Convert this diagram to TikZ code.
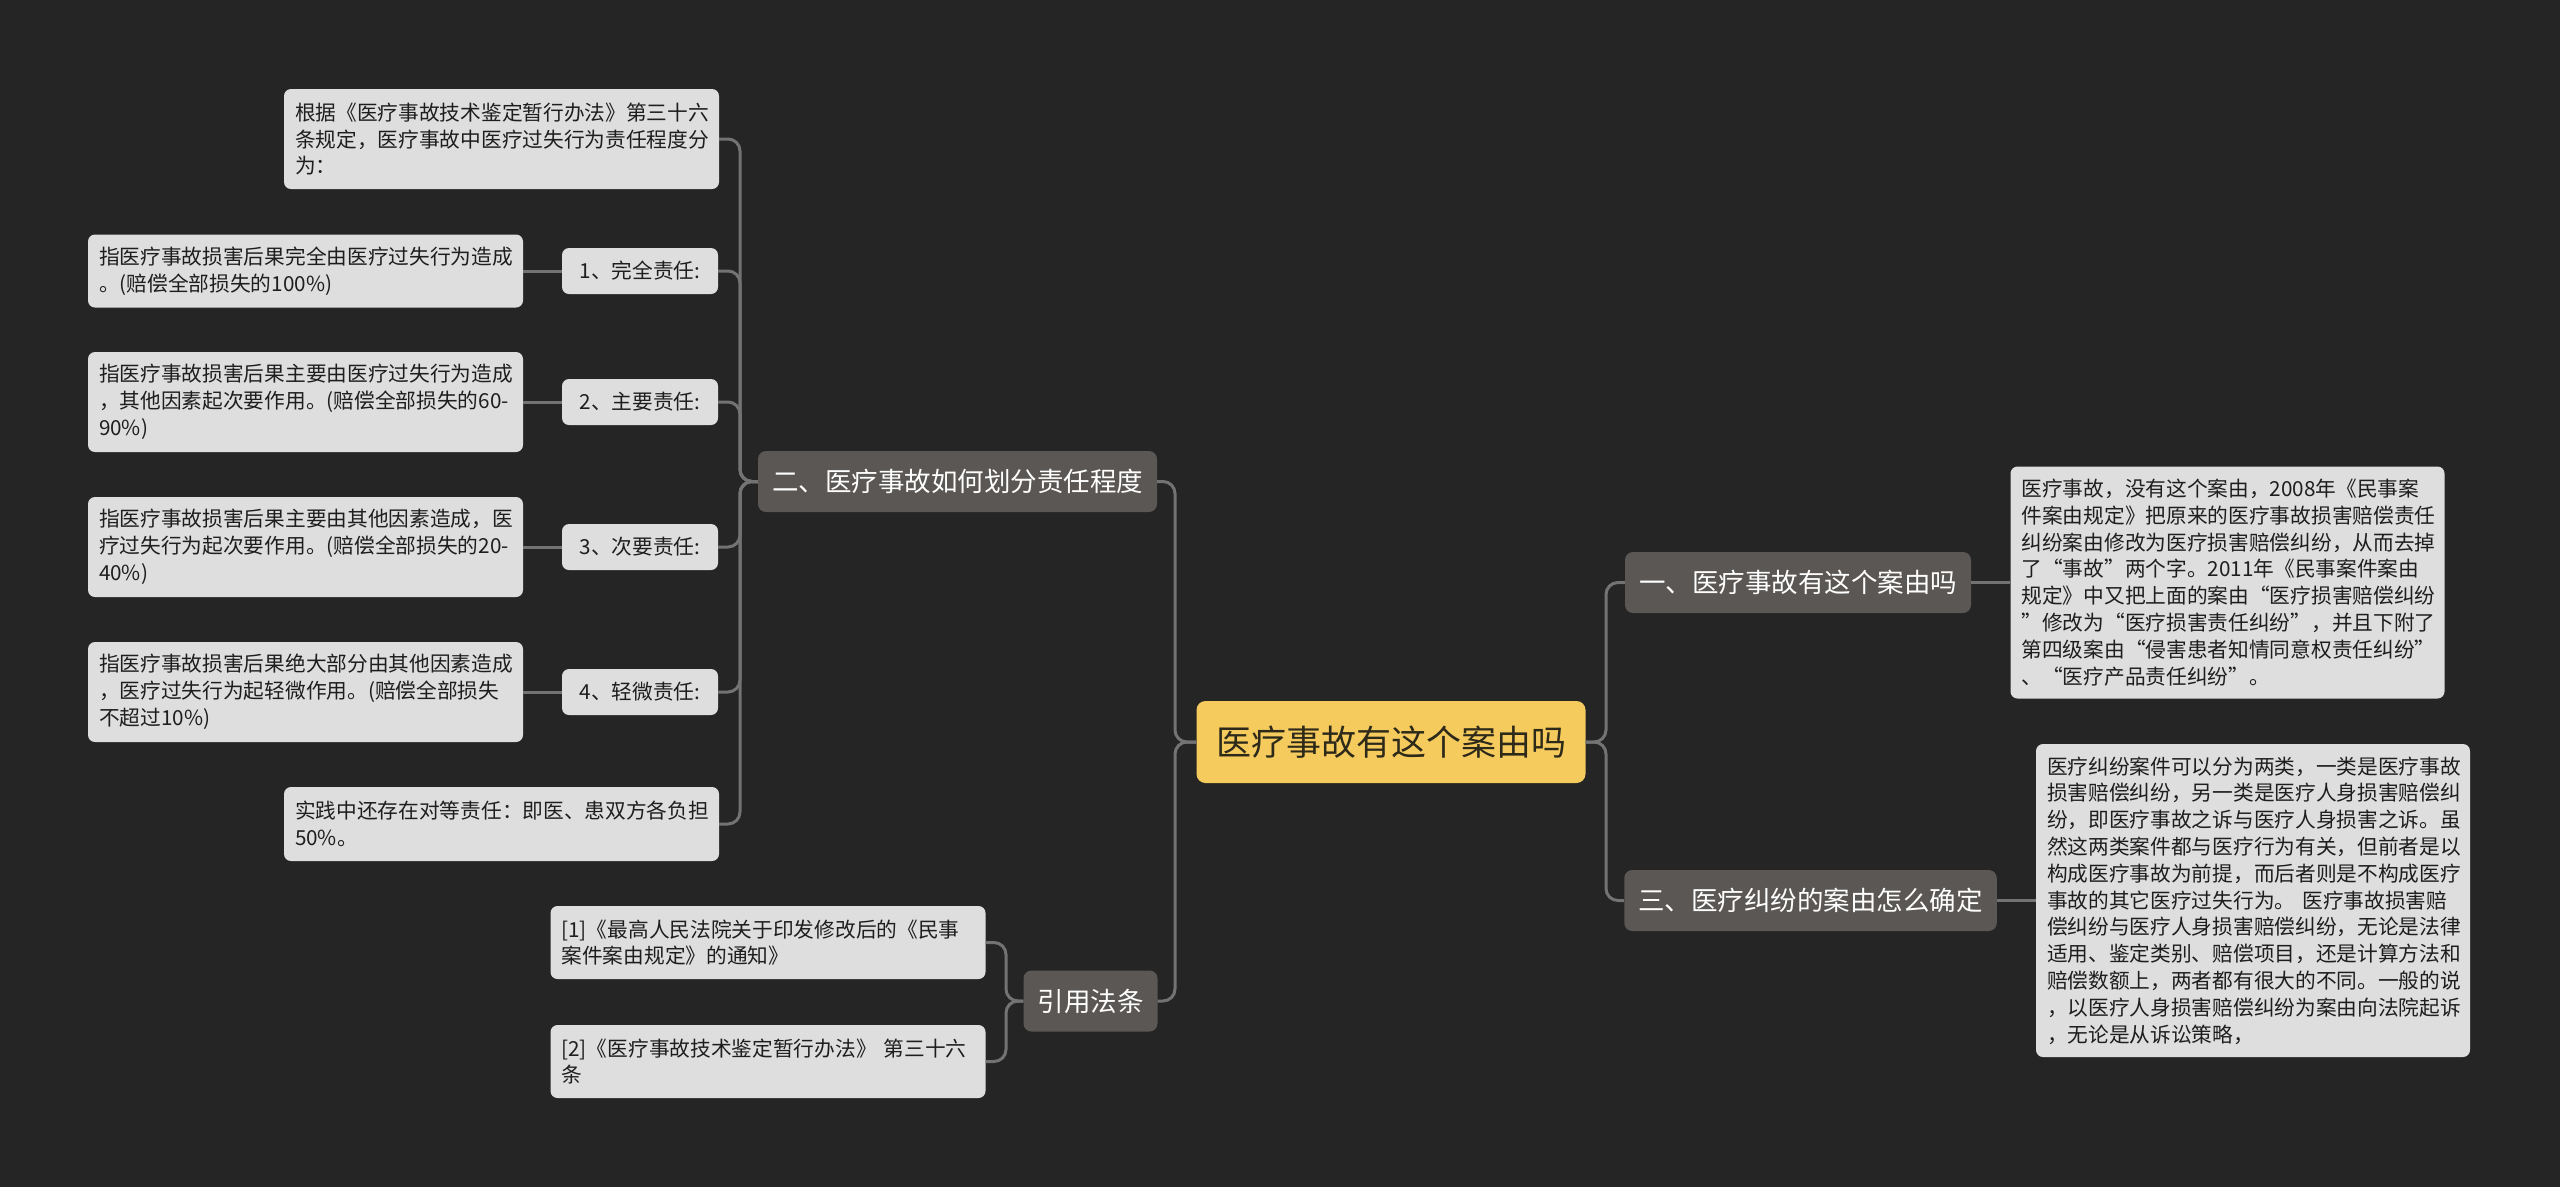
\documentclass[tikz,border=0pt]{standalone}
\usepackage{fontspec}
\setmainfont{Noto Sans CJK SC}
\definecolor{bgc}{HTML}{252525}
\definecolor{leafc}{HTML}{DEDEDE}
\definecolor{leaftxt}{HTML}{1E1E1E}
\definecolor{brc}{HTML}{5A5754}
\definecolor{rootc}{HTML}{F5CB5E}
\definecolor{roottxt}{HTML}{2E2A1A}
\definecolor{linec}{HTML}{737373}
\tikzset{
  leaf/.style={fill=leafc, rounded corners=7pt, text=leaftxt,
    font=\fontsize{20.7pt}{26.8pt}\selectfont, align=left,
    text width=413pt, inner xsep=11pt, inner ysep=0pt},
  subb/.style={fill=leafc, rounded corners=7pt, text=leaftxt,
    font=\fontsize{20.7pt}{26.8pt}\selectfont, minimum width=156pt,
    minimum height=46pt, inner sep=0pt},
  branch/.style={fill=brc, rounded corners=8pt, text=white,
    font=\fontsize{26.5pt}{30pt}\selectfont, minimum height=61pt,
    inner xsep=14pt, inner ysep=0pt},
  rootn/.style={fill=rootc, rounded corners=9pt, text=roottxt,
    font=\fontsize{35pt}{40pt}\selectfont, minimum height=82pt,
    inner xsep=19.5pt, inner ysep=0pt},
  conn/.style={draw=linec, line width=3pt, rounded corners=12pt}
}
\begin{document}
\begin{tikzpicture}[x=1pt,y=-1pt]
\useasboundingbox (0,0) rectangle (2560,1187);
\fill[bgc] (0,0) rectangle (2560,1187);

% root
\node[rootn] (root) at (1391,742) {医疗事故有这个案由吗};

% branches
\node[branch] (b2) at (957.5,481.5) {二、医疗事故如何划分责任程度};
\node[branch] (b4) at (1090.5,1001) {引用法条};
\node[branch] (b1) at (1798,582.5) {一、医疗事故有这个案由吗};
\node[branch] (b3) at (1810.5,900.5) {三、医疗纠纷的案由怎么确定};

% left leaves
\node[leaf, minimum height=100pt] (l0) at (501.5,139) {根据《医疗事故技术鉴定暂行办法》第三十六\\条规定，医疗事故中医疗过失行为责任程度分\\为：};
\node[subb] (s1) at (640,271) {1、完全责任:};
\node[leaf, minimum height=73pt] (l1) at (305.5,271) {指医疗事故损害后果完全由医疗过失行为造成\\。(赔偿全部损失的100\%)};
\node[subb] (s2) at (640,402) {2、主要责任:};
\node[leaf, minimum height=100pt] (l2) at (305.5,402) {指医疗事故损害后果主要由医疗过失行为造成\\，其他因素起次要作用。(赔偿全部损失的60-\\90\%)};
\node[subb] (s3) at (640,547) {3、次要责任:};
\node[leaf, minimum height=100pt] (l3) at (305.5,547) {指医疗事故损害后果主要由其他因素造成，医\\疗过失行为起次要作用。(赔偿全部损失的20-\\40\%)};
\node[subb] (s4) at (640,692) {4、轻微责任:};
\node[leaf, minimum height=100pt] (l4) at (305.5,692) {指医疗事故损害后果绝大部分由其他因素造成\\，医疗过失行为起轻微作用。(赔偿全部损失\\不超过10\%)};
\node[leaf, minimum height=74pt] (l5) at (501.5,824) {实践中还存在对等责任：即医、患双方各负担\\50\%。};

% references
\node[leaf, minimum height=73pt] (r1) at (768,942.5) {[1]《最高人民法院关于印发修改后的《民事\\案件案由规定》的通知》};
\node[leaf, minimum height=73pt] (r2) at (768,1061.5) {[2]《医疗事故技术鉴定暂行办法》 第三十六\\条};

% right leaves
\node[leaf, text width=412pt, minimum height=232pt] (x1) at (2227.5,582.5) {医疗事故，没有这个案由，2008年《民事案\\件案由规定》把原来的医疗事故损害赔偿责任\\纠纷案由修改为医疗损害赔偿纠纷，从而去掉\\了“事故”两个字。2011年《民事案件案由\\规定》中又把上面的案由“医疗损害赔偿纠纷\\”修改为“医疗损害责任纠纷”，并且下附了\\第四级案由“侵害患者知情同意权责任纠纷”\\、“医疗产品责任纠纷”。};
\node[leaf, text width=412pt, minimum height=313pt] (x3) at (2253,900.5) {医疗纠纷案件可以分为两类，一类是医疗事故\\损害赔偿纠纷，另一类是医疗人身损害赔偿纠\\纷，即医疗事故之诉与医疗人身损害之诉。虽\\然这两类案件都与医疗行为有关，但前者是以\\构成医疗事故为前提，而后者则是不构成医疗\\事故的其它医疗过失行为。 医疗事故损害赔\\偿纠纷与医疗人身损害赔偿纠纷，无论是法律\\适用、鉴定类别、赔偿项目，还是计算方法和\\赔偿数额上，两者都有很大的不同。一般的说\\，以医疗人身损害赔偿纠纷为案由向法院起诉\\，无论是从诉讼策略，};

% trunk coordinates
\coordinate (tl) at (1175,742);
\coordinate (tr) at (1606,742);
\coordinate (t2) at (740,481.5);
\coordinate (t4) at (1006,1001);

% root connectors
\draw[conn] (root.west) -- (tl) |- (b2.east);
\draw[conn] (root.west) -- (tl) |- (b4.east);
\draw[conn] (root.east) -- (tr) |- (b1.west);
\draw[conn] (root.east) -- (tr) |- (b3.west);

% branch 2 children
\draw[conn] (b2.west) -- (t2) |- (l0.east);
\draw[conn] (b2.west) -- (t2) |- (s1.east);
\draw[conn] (b2.west) -- (t2) |- (s2.east);
\draw[conn] (b2.west) -- (t2) |- (s3.east);
\draw[conn] (b2.west) -- (t2) |- (s4.east);
\draw[conn] (b2.west) -- (t2) |- (l5.east);
\draw[conn] (s1.west) -- (l1.east);
\draw[conn] (s2.west) -- (l2.east);
\draw[conn] (s3.west) -- (l3.east);
\draw[conn] (s4.west) -- (l4.east);

% references
\draw[conn] (b4.west) -- (t4) |- (r1.east);
\draw[conn] (b4.west) -- (t4) |- (r2.east);

% right leaves
\draw[conn] (b1.east) -- (x1.west);
\draw[conn] (b3.east) -- (x3.west);
\end{tikzpicture}
\end{document}
